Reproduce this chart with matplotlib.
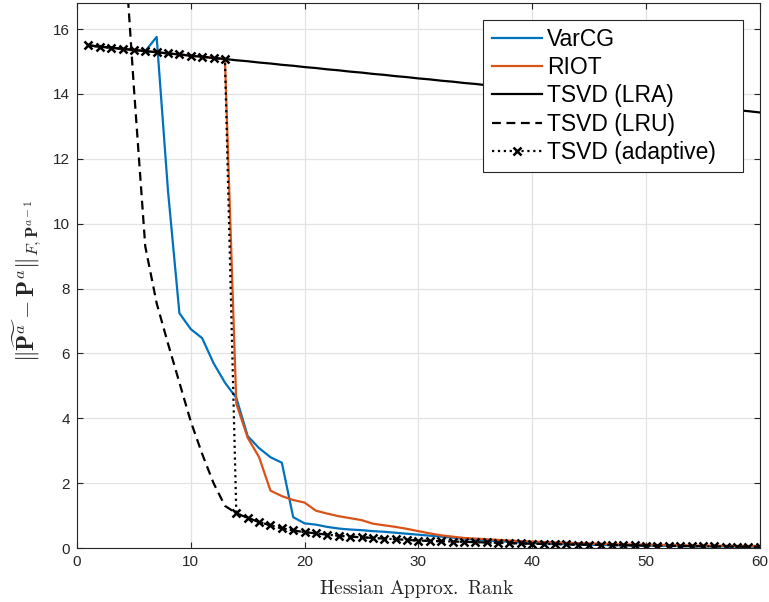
import matplotlib
matplotlib.use("Agg")
import matplotlib.pyplot as plt
import numpy as np

# Hessian approximation rank (x axis)
rank = list(range(1, 61))

# TSVD (LRA): slowly decreasing straight-ish line
tsvd_lra = [15.50, 15.46, 15.43, 15.39, 15.36, 15.32, 15.29, 15.25, 15.22, 15.18,
            15.15, 15.11, 15.08, 15.04, 15.01, 14.97, 14.94, 14.90, 14.87, 14.83,
            14.80, 14.76, 14.73, 14.69, 14.66, 14.62, 14.59, 14.55, 14.52, 14.48,
            14.45, 14.41, 14.38, 14.34, 14.31, 14.27, 14.24, 14.20, 14.17, 14.13,
            14.10, 14.06, 14.03, 13.99, 13.96, 13.92, 13.89, 13.85, 13.82, 13.78,
            13.75, 13.71, 13.68, 13.64, 13.61, 13.57, 13.54, 13.50, 13.47, 13.43]

# TSVD (LRU): starts far above the top of the axes
tsvd_lru = [60.0, 40.0, 28.0, 19.5, 14.2, 9.3, 7.55, 6.3, 5.1, 3.9,
            2.9, 2.0, 1.3, 1.07, 0.93, 0.80, 0.70, 0.61, 0.54, 0.49,
            0.45, 0.41, 0.38, 0.35, 0.33, 0.31, 0.29, 0.27, 0.25, 0.23,
            0.22, 0.21, 0.20, 0.19, 0.18, 0.17, 0.16, 0.15, 0.14, 0.13,
            0.125, 0.12, 0.11, 0.105, 0.10, 0.095, 0.09, 0.085, 0.08, 0.075,
            0.07, 0.066, 0.062, 0.058, 0.054, 0.05, 0.046, 0.042, 0.038, 0.035]

# TSVD (adaptive): LRA up to rank 13, LRU afterwards
tsvd_adaptive = tsvd_lra[:13] + tsvd_lru[13:]

varcg = [15.50, 15.46, 15.43, 15.39, 15.36, 15.32, 15.76, 11.0, 7.24, 6.75,
         6.47, 5.70, 5.10, 4.63, 3.45, 3.08, 2.80, 2.63, 0.95, 0.76,
         0.72, 0.65, 0.60, 0.57, 0.55, 0.52, 0.50, 0.47, 0.44, 0.41,
         0.38, 0.35, 0.32, 0.29, 0.26, 0.23, 0.21, 0.19, 0.17, 0.15,
         0.14, 0.13, 0.12, 0.11, 0.10, 0.095, 0.09, 0.085, 0.08, 0.075,
         0.07, 0.066, 0.062, 0.058, 0.055, 0.052, 0.049, 0.046, 0.043, 0.04]

riot = [15.50, 15.46, 15.43, 15.39, 15.36, 15.32, 15.29, 15.25, 15.22, 15.18,
        15.15, 15.11, 15.08, 4.45, 3.40, 2.80, 1.77, 1.60, 1.48, 1.40,
        1.15, 1.06, 0.98, 0.92, 0.86, 0.75, 0.70, 0.65, 0.59, 0.52,
        0.45, 0.39, 0.35, 0.31, 0.29, 0.27, 0.25, 0.23, 0.21, 0.20,
        0.185, 0.17, 0.16, 0.15, 0.14, 0.13, 0.12, 0.115, 0.11, 0.10,
        0.095, 0.09, 0.085, 0.08, 0.075, 0.07, 0.067, 0.064, 0.062, 0.06]

plt.rcParams['font.family'] = ['Liberation Sans', 'DejaVu Sans']
plt.rcParams['mathtext.fontset'] = 'cm'

fig = plt.figure(figsize=(7.69, 6.02), dpi=100)
ax = fig.add_axes([0.1001, 0.0897, 0.888, 0.905])

lw = 1.6
ax.plot(rank, varcg, color='#0072BD', lw=lw, label='VarCG')
ax.plot(rank, riot, color='#D95319', lw=lw, label='RIOT')
ax.plot(rank, tsvd_lra, color='k', lw=lw, label='TSVD (LRA)')
ax.plot(rank, tsvd_lru, color='k', lw=lw, dashes=(4, 2.5), label='TSVD (LRU)')
ax.plot(rank, tsvd_adaptive, color='k', lw=lw, linestyle=':', marker='x',
        markersize=5.5, markeredgewidth=1.8, label='TSVD (adaptive)   ')

ax.set_xlim(0, 60)
ax.set_ylim(0, 16.8)
ax.set_xticks(np.arange(0, 61, 10))
ax.set_yticks(np.arange(0, 17, 2))
ax.grid(True, color='#e3e3e3', lw=0.9)
ax.set_axisbelow(True)
ax.tick_params(direction='in', top=True, right=True, length=4, width=0.8,
               labelsize=11, colors='#262626', pad=5)
for s in ax.spines.values():
    s.set_color('#262626')
    s.set_linewidth(0.8)

ax.set_xlabel(r'$\mathrm{Hessian\ Approx.\ Rank}$', fontsize=14, color='#262626')
ax.set_ylabel(r'$\|\widetilde{\mathbf{P}^a} - \mathbf{P}^a\|_{F,\mathbf{P}^{a-1}}$',
              fontsize=17, color='#262626')
ax.xaxis.set_label_coords(0.498, -0.055)
ax.yaxis.set_label_coords(-0.048, 0.49)

leg = ax.legend(loc='upper right', fontsize=16.5, frameon=True, fancybox=False,
                framealpha=1, edgecolor='#262626', handlelength=2.2,
                handletextpad=0.2, labelspacing=0.22, borderaxespad=0.72,
                borderpad=0.38)
leg.get_frame().set_linewidth(0.8)

fig.savefig('out.png', dpi=100)
